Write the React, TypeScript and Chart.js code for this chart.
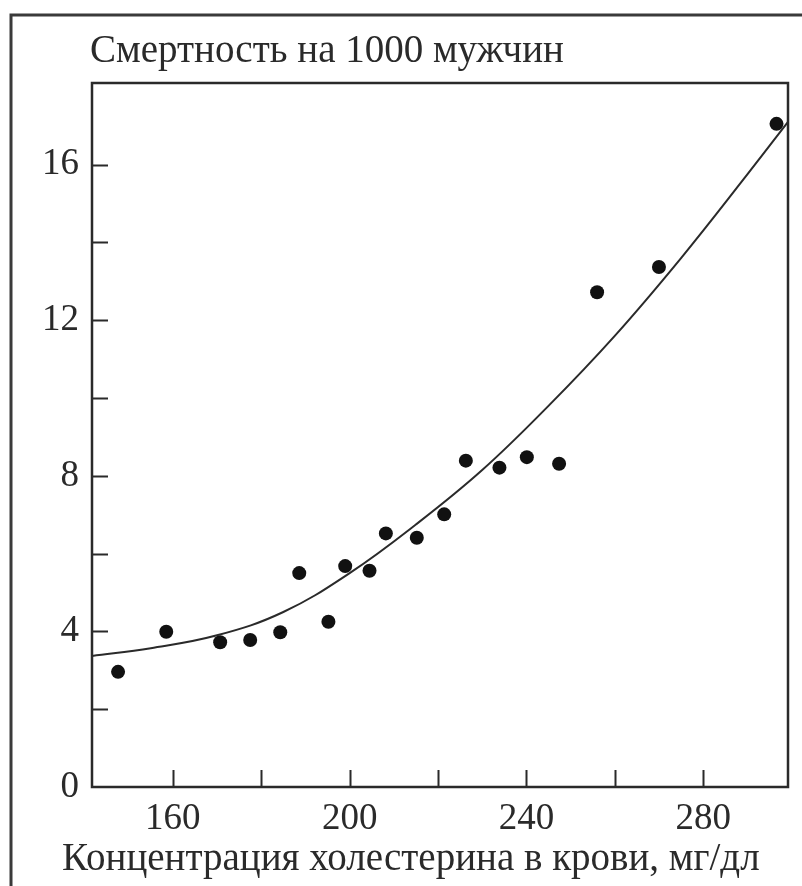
import React, { useEffect, useRef } from "react";
import { Chart, registerables } from "chart.js";

Chart.register(...registerables);

// Scatter data: cholesterol (mg/dl) vs deaths per 1000 men
const cholesterol = [147.6, 158.5, 170.7, 177.5, 184.3, 188.6, 195.2, 199.0, 204.5, 208.2, 215.2, 221.4, 226.3, 233.9, 240.1, 247.4, 256.0, 270.0, 296.6];
const mortality = [2.96, 3.99, 3.72, 3.78, 3.98, 5.5, 4.25, 5.68, 5.56, 6.52, 6.41, 7.01, 8.39, 8.21, 8.48, 8.31, 12.72, 13.37, 17.05];

// Fitted curve
const fitX = [141.7, 155, 170, 185, 200, 215, 230, 245, 260, 275, 290, 299.2];
const fitY = [3.37, 3.57, 3.9, 4.5, 5.5, 6.75, 8.15, 9.8, 11.6, 13.6, 15.75, 17.1];

// Axes
const xMin = 141.7;
const xMax = 299.2;
const yMin = 0;
const yMax = 18.1;
const xLabelTicks = [160, 200, 240, 280];
const xTickMarks = [160, 180, 200, 220, 240, 260, 280];
const yLabelTicks = [0, 4, 8, 12, 16];
const yTickMarks = [2, 4, 6, 8, 10, 12, 14, 16];

const titleText = "Смертность на 1000 мужчин";
const xTitleText = "Концентрация холестерина в крови, мг/дл";

const FONT = "'Liberation Serif', 'DejaVu Serif', serif";
const INK = "#2a2a2a";

export default function App() {
  const canvasRef = useRef<HTMLCanvasElement | null>(null);

  useEffect(() => {
    const canvas = canvasRef.current;
    if (!canvas) return;

    const decor = {
      id: "decor",
      afterDraw(chart: any) {
        const { ctx, chartArea } = chart;
        const xs = chart.scales.x;
        const ys = chart.scales.y;
        ctx.save();
        // outer page frame (top and left lines)
        ctx.strokeStyle = "#3a3a3a";
        ctx.lineWidth = 3;
        ctx.beginPath();
        ctx.moveTo(11, 886);
        ctx.lineTo(11, 15);
        ctx.lineTo(802, 15);
        ctx.stroke();

        // plot box
        ctx.strokeStyle = INK;
        ctx.lineWidth = 2.5;
        ctx.strokeRect(chartArea.left, chartArea.top, chartArea.right - chartArea.left, chartArea.bottom - chartArea.top);

        // inward tick marks
        ctx.lineWidth = 2;
        ctx.beginPath();
        for (const v of yTickMarks) {
          const py = Math.round(ys.getPixelForValue(v)) + 0.5;
          ctx.moveTo(chartArea.left, py);
          ctx.lineTo(chartArea.left + 16, py);
        }
        for (const v of xTickMarks) {
          const px = Math.round(xs.getPixelForValue(v)) + 0.5;
          ctx.moveTo(px, chartArea.bottom);
          ctx.lineTo(px, chartArea.bottom - 17);
        }
        ctx.stroke();

        // titles
        ctx.fillStyle = INK;
        ctx.font = `39px ${FONT}`;
        ctx.textAlign = "left";
        ctx.textBaseline = "alphabetic";
        ctx.fillText(titleText, chartArea.left - 2, chartArea.top - 21);
        ctx.fillText(xTitleText, chartArea.left - 30, chartArea.bottom + 83);
        ctx.restore();
      },
    };

    const chart = new Chart(canvas, {
      type: "scatter",
      data: {
        datasets: [
          {
            type: "line",
            label: "fit",
            data: fitX.map((x, i) => ({ x, y: fitY[i] })),
            borderColor: INK,
            borderWidth: 2,
            pointRadius: 0,
            fill: false,
            tension: 0.4,
            showLine: true,
          } as any,
          {
            label: "data",
            data: cholesterol.map((x, i) => ({ x, y: mortality[i] })),
            backgroundColor: "#111",
            borderColor: "#111",
            pointRadius: 7,
            pointBorderWidth: 0,
          },
        ],
      },
      plugins: [decor],
      options: {
        responsive: false,
        animation: false,
        devicePixelRatio: 1,
        layout: { padding: { top: 83, right: 14, left: 0, bottom: 0 } },
        plugins: {
          legend: { display: false },
          tooltip: { enabled: false },
          title: { display: false },
        },
        scales: {
          x: {
            type: "linear",
            min: xMin,
            max: xMax,
            grid: { display: false, drawTicks: false },
            border: { display: false },
            afterBuildTicks: (s: any) => {
              s.ticks = xLabelTicks.map((v) => ({ value: v }));
            },
            afterFit: (s: any) => {
              s.height = 99;
            },
            ticks: {
              color: INK,
              font: { family: FONT, size: 37 },
              padding: 10,
              maxRotation: 0,
              autoSkip: false,
              callback: (v: any) => String(v),
            },
          },
          y: {
            type: "linear",
            min: yMin,
            max: yMax,
            grid: { display: false, drawTicks: false },
            border: { display: false },
            afterBuildTicks: (s: any) => {
              s.ticks = yLabelTicks.map((v) => ({ value: v }));
            },
            afterFit: (s: any) => {
              s.width = 92;
            },
            ticks: {
              color: INK,
              font: { family: FONT, size: 37 },
              padding: 13,
              autoSkip: false,
              callback: (v: any) => String(v),
            },
          },
        },
      },
    });

    return () => chart.destroy();
  }, []);

  return (
    <div style={{ position: "fixed", left: 0, top: 0, width: 802, height: 886, background: "#fff" }}>
      <canvas ref={canvasRef} width={802} height={886} style={{ display: "block", width: 802, height: 886 }} />
    </div>
  );
}
